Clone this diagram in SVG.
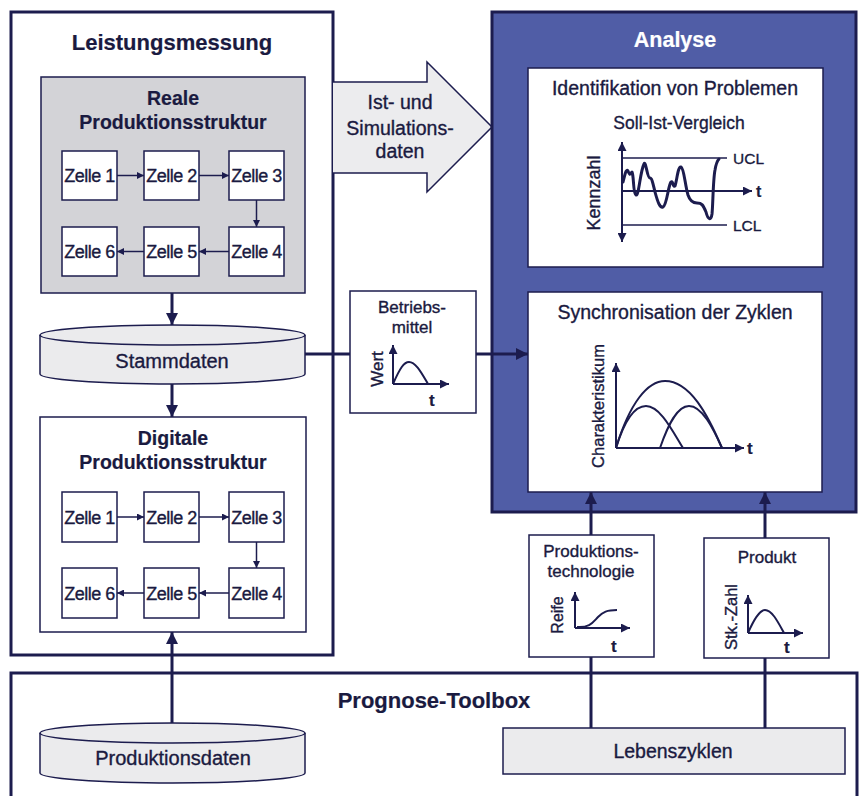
<svg xmlns="http://www.w3.org/2000/svg" width="860" height="796" viewBox="0 0 860 796">
<defs>
<style>
text{font-family:"Liberation Sans",Arial,Helvetica,sans-serif;fill:#1a1a40;stroke:#1a1a40;stroke-width:0.35px}
.b{font-weight:bold;stroke-width:0.2px}
.c{text-anchor:middle}
.w{fill:#fff;stroke:#fff}
.frame{fill:#fff;stroke:#1c1c4e;stroke-width:3}
.blue{fill:#505da6;stroke:#1c1c4e;stroke-width:3}
.thin{fill:#fff;stroke:#1c1c4e;stroke-width:1.5}
.gray{fill:#d3d3d7;stroke:#1c1c4e;stroke-width:1.5}
.light{fill:#ebebed;stroke:#1c1c4e;stroke-width:1.5}
.ct{font-size:18px;text-anchor:middle;letter-spacing:-0.5px}
.thick{fill:none;stroke:#1c1c4e;stroke-width:3}
.tc{fill:none;stroke:#1c1c4e;stroke-width:1.5}
.ax{fill:none;stroke:#1c1c4e;stroke-width:2}
.cv{fill:none;stroke:#1c1c4e;stroke-width:2}
.cvb{fill:none;stroke:#1c1c4e;stroke-width:3;stroke-linejoin:round;stroke-linecap:round}
</style>
<marker id="sm" viewBox="0 0 10 10" refX="10" refY="5" markerWidth="7" markerHeight="7" markerUnits="userSpaceOnUse" orient="auto"><path d="M0,0 L10,5 L0,10 Z" fill="#1c1c4e"/></marker>
<marker id="big" viewBox="0 0 10 10" refX="10" refY="5" markerWidth="12" markerHeight="12" markerUnits="userSpaceOnUse" orient="auto"><path d="M0,0 L10,5 L0,10 Z" fill="#1c1c4e"/></marker>
<marker id="axm" viewBox="0 0 10 10" refX="10" refY="5" markerWidth="9" markerHeight="9" markerUnits="userSpaceOnUse" orient="auto-start-reverse"><path d="M0,0 L10,5 L0,10 Z" fill="#1c1c4e"/></marker>
</defs>
<rect width="860" height="796" fill="#fff"/>

<!-- Prognose-Toolbox -->
<g id="prognose-toolbox">
<path class="frame" d="M11,800 L11,673 L857,673 L857,800"/>
<text class="b c" x="434" y="708" font-size="22">Prognose-Toolbox</text>
</g>

<!-- Leistungsmessung -->
<g id="leistungsmessung">
<rect class="frame" x="11" y="12" width="322" height="643"/>
<text class="b c" x="172" y="50" font-size="22">Leistungsmessung</text>
</g>

<g id="reale-produktionsstruktur">
<rect class="gray" x="41" y="77" width="264" height="216"/>
<text class="b c" x="173" y="105" font-size="19.5">Reale</text>
<text class="b c" x="173" y="129" font-size="19.5">Produktionsstruktur</text>
</g>
<g id="r-zelle1"><rect class="thin" x="62" y="151" width="55" height="49"/><text class="ct" x="89.5" y="182">Zelle 1</text></g>
<g id="r-zelle2"><rect class="thin" x="144" y="151" width="55" height="49"/><text class="ct" x="171.5" y="182">Zelle 2</text></g>
<g id="r-zelle3"><rect class="thin" x="229" y="151" width="55" height="49"/><text class="ct" x="256.5" y="182">Zelle 3</text></g>
<g id="r-zelle4"><rect class="thin" x="229" y="227" width="55" height="49"/><text class="ct" x="256.5" y="258">Zelle 4</text></g>
<g id="r-zelle5"><rect class="thin" x="144" y="227" width="55" height="49"/><text class="ct" x="171.5" y="258">Zelle 5</text></g>
<g id="r-zelle6"><rect class="thin" x="62" y="227" width="55" height="49"/><text class="ct" x="89.5" y="258">Zelle 6</text></g>

<g id="stammdaten">
<path class="light" d="M40,335 A132.5,10 0 0 1 305,335 L305,374 A132.5,10 0 0 1 40,374 Z"/>
<path class="tc" d="M40,335 A132.5,10 0 0 0 305,335"/>
<text class="c" x="172" y="368" font-size="20">Stammdaten</text>
</g>

<g id="digitale-produktionsstruktur">
<rect class="thin" x="40" y="417" width="266" height="215"/>
<text class="b c" x="173" y="445" font-size="19.5">Digitale</text>
<text class="b c" x="173" y="469" font-size="19.5">Produktionsstruktur</text>
</g>
<g id="d-zelle1"><rect class="thin" x="62" y="492" width="55" height="50"/><text class="ct" x="89.5" y="523.5">Zelle 1</text></g>
<g id="d-zelle2"><rect class="thin" x="144" y="492" width="55" height="50"/><text class="ct" x="171.5" y="523.5">Zelle 2</text></g>
<g id="d-zelle3"><rect class="thin" x="229" y="492" width="55" height="50"/><text class="ct" x="256.5" y="523.5">Zelle 3</text></g>
<g id="d-zelle4"><rect class="thin" x="229" y="568" width="55" height="50"/><text class="ct" x="256.5" y="599.5">Zelle 4</text></g>
<g id="d-zelle5"><rect class="thin" x="144" y="568" width="55" height="50"/><text class="ct" x="171.5" y="599.5">Zelle 5</text></g>
<g id="d-zelle6"><rect class="thin" x="62" y="568" width="55" height="50"/><text class="ct" x="89.5" y="599.5">Zelle 6</text></g>

<g id="produktionsdaten">
<path class="light" d="M40,733 A132.5,10 0 0 1 305,733 L305,773 A132.5,10 0 0 1 40,773 Z"/>
<path class="tc" d="M40,733 A132.5,10 0 0 0 305,733"/>
<text class="c" x="173" y="765" font-size="20">Produktionsdaten</text>
</g>

<!-- Ist- und Simulationsdaten arrow -->
<g id="ist-simulationsdaten">
<path fill="#ececee" stroke="#1c1c4e" stroke-width="1.5" d="M333,82 L427,82 L427,62 L492,127 L427,192 L427,173 L333,173"/>
<text class="c" x="400" y="109" font-size="19.5">Ist- und</text>
<text class="c" x="400" y="135" font-size="19.5">Simulations-</text>
<text class="c" x="400" y="158" font-size="19.5">daten</text>
</g>

<!-- Analyse -->
<g id="analyse">
<rect class="blue" x="492" y="12" width="364" height="500"/>
<text class="b c w" x="675" y="47" font-size="21.5">Analyse</text>
</g>

<g id="identifikation">
<rect class="thin" x="528" y="68" width="295" height="199"/>
<text class="c" x="675" y="95" font-size="19.5">Identifikation von Problemen</text>
<text class="c" x="679" y="129" font-size="17.5">Soll-Ist-Vergleich</text>
<line class="ax" x1="622" y1="142" x2="622" y2="242" marker-start="url(#axm)" marker-end="url(#axm)"/>
<line class="tc" x1="622" y1="158" x2="727" y2="158"/>
<line class="tc" x1="622" y1="225" x2="727" y2="225"/>
<line class="ax" x1="622" y1="191" x2="752" y2="191" marker-end="url(#axm)"/>
<path class="cvb" d="M623,182 C625,175 626,168 628,171 C630,176 630,174 632,172 C634,176 633,194 636,195 C639,196 640,172 644,164 C646,160 647,178 650,178 C652,178 653,184 655,192 C658,203 660,208 663,207 C667,205 668,186 671,182 C673,180 673,188 675,186 C677,180 678,166 681,167 C684,168 685,185 688,195 C690,201 693,203 697,203 C702,203 703,205 706,212 C708,220 711,221 712,214 C713,205 713,180 715,170 C716,164 717,161 719,159"/>
<text x="756" y="197" font-size="16" class="b">t</text>
<text x="733" y="164" font-size="15.5">UCL</text>
<text x="733" y="231" font-size="15.5">LCL</text>
<text class="c" transform="translate(600,193) rotate(-90)" font-size="18">Kennzahl</text>
</g>

<g id="synchronisation">
<rect class="thin" x="528" y="292" width="294" height="200"/>
<text class="c" x="675" y="319" font-size="19.5">Synchronisation der Zyklen</text>
<line class="ax" x1="616" y1="448" x2="616" y2="363" marker-end="url(#axm)"/>
<line class="ax" x1="616" y1="448" x2="744" y2="448" marker-end="url(#axm)"/>
<path class="cv" d="M616,448 C630,402 648,381 665,381 C690,381 708,415 722,448"/>
<path class="cv" d="M616,448 C624,422 634,406 646,406 C660,406 672,430 683,448"/>
<path class="cv" d="M660,448 C668,425 677,406 689,406 C702,406 713,428 722,448"/>
<text class="b" x="747" y="454" font-size="17">t</text>
<text class="c" transform="translate(604,406) rotate(-90)" font-size="16.5">Charakteristikum</text>
</g>

<g id="betriebsmittel">
<rect class="thin" x="350" y="291" width="126" height="122"/>
<text class="c" x="412" y="313" font-size="17">Betriebs-</text>
<text class="c" x="412" y="333" font-size="17">mittel</text>
<line class="ax" x1="393" y1="384" x2="393" y2="345" marker-end="url(#axm)"/>
<line class="ax" x1="393" y1="384" x2="449" y2="384" marker-end="url(#axm)"/>
<path class="cv" d="M393,384 C400,368 404,362 409,362 C416,362 422,374 428,384"/>
<text class="b" x="429" y="406" font-size="17">t</text>
<text class="c" transform="translate(383,369) rotate(-90)" font-size="17">Wert</text>
</g>

<g id="produktionstechnologie">
<rect class="thin" x="529" y="535" width="125" height="122"/>
<text class="c" x="591" y="557" font-size="17">Produktions-</text>
<text class="c" x="591" y="577" font-size="17">technologie</text>
<line class="ax" x1="575" y1="628" x2="575" y2="592" marker-end="url(#axm)"/>
<line class="ax" x1="575" y1="628" x2="630" y2="628" marker-end="url(#axm)"/>
<path class="cv" d="M577,627 C590,628 593,622 598,617 C603,612 607,610 617,610"/>
<text class="b" x="611" y="652" font-size="17">t</text>
<text class="c" transform="translate(563,615) rotate(-90)" font-size="16">Reife</text>
</g>

<g id="produkt">
<rect class="thin" x="704" y="538" width="125" height="120"/>
<text class="c" x="767" y="563" font-size="17">Produkt</text>
<line class="ax" x1="748" y1="633" x2="748" y2="595" marker-end="url(#axm)"/>
<line class="ax" x1="748" y1="633" x2="803" y2="633" marker-end="url(#axm)"/>
<path class="cv" d="M748,633 C755,617 760,610 765,610 C772,610 778,622 784,633"/>
<text class="b" x="784" y="653" font-size="17">t</text>
<text class="c" transform="translate(737,617) rotate(-90)" font-size="16.5">Stk.-Zahl</text>
</g>

<g id="lebenszyklen">
<rect class="light" x="503" y="728" width="342" height="46"/>
<text class="c" x="673" y="758" font-size="19.5">Lebenszyklen</text>
</g>

<!-- Connectors -->
<g id="connectors">
<line class="tc" x1="117" y1="175.5" x2="144" y2="175.5" marker-end="url(#sm)"/>
<line class="tc" x1="199" y1="175.5" x2="229" y2="175.5" marker-end="url(#sm)"/>
<line class="tc" x1="256.5" y1="200" x2="256.5" y2="227" marker-end="url(#sm)"/>
<line class="tc" x1="229" y1="251.5" x2="199" y2="251.5" marker-end="url(#sm)"/>
<line class="tc" x1="144" y1="251.5" x2="117" y2="251.5" marker-end="url(#sm)"/>

<line class="tc" x1="117" y1="517" x2="144" y2="517" marker-end="url(#sm)"/>
<line class="tc" x1="199" y1="517" x2="229" y2="517" marker-end="url(#sm)"/>
<line class="tc" x1="256.5" y1="542" x2="256.5" y2="568" marker-end="url(#sm)"/>
<line class="tc" x1="229" y1="593" x2="199" y2="593" marker-end="url(#sm)"/>
<line class="tc" x1="144" y1="593" x2="117" y2="593" marker-end="url(#sm)"/>

<line class="thick" x1="172" y1="293" x2="172" y2="325" marker-end="url(#big)"/>
<line class="thick" x1="172" y1="384" x2="172" y2="417" marker-end="url(#big)"/>
<line class="thick" x1="172" y1="723" x2="172" y2="632" marker-end="url(#big)"/>
<line class="thick" x1="305" y1="354" x2="350" y2="354"/>
<line class="thick" x1="476" y1="354" x2="528" y2="354" marker-end="url(#big)"/>
<line class="thick" x1="591" y1="535" x2="591" y2="492" marker-end="url(#big)"/>
<line class="thick" x1="765" y1="538" x2="765" y2="492" marker-end="url(#big)"/>
<line class="thick" x1="591" y1="657" x2="591" y2="728"/>
<line class="thick" x1="765" y1="658" x2="765" y2="728"/>
</g>
</svg>
